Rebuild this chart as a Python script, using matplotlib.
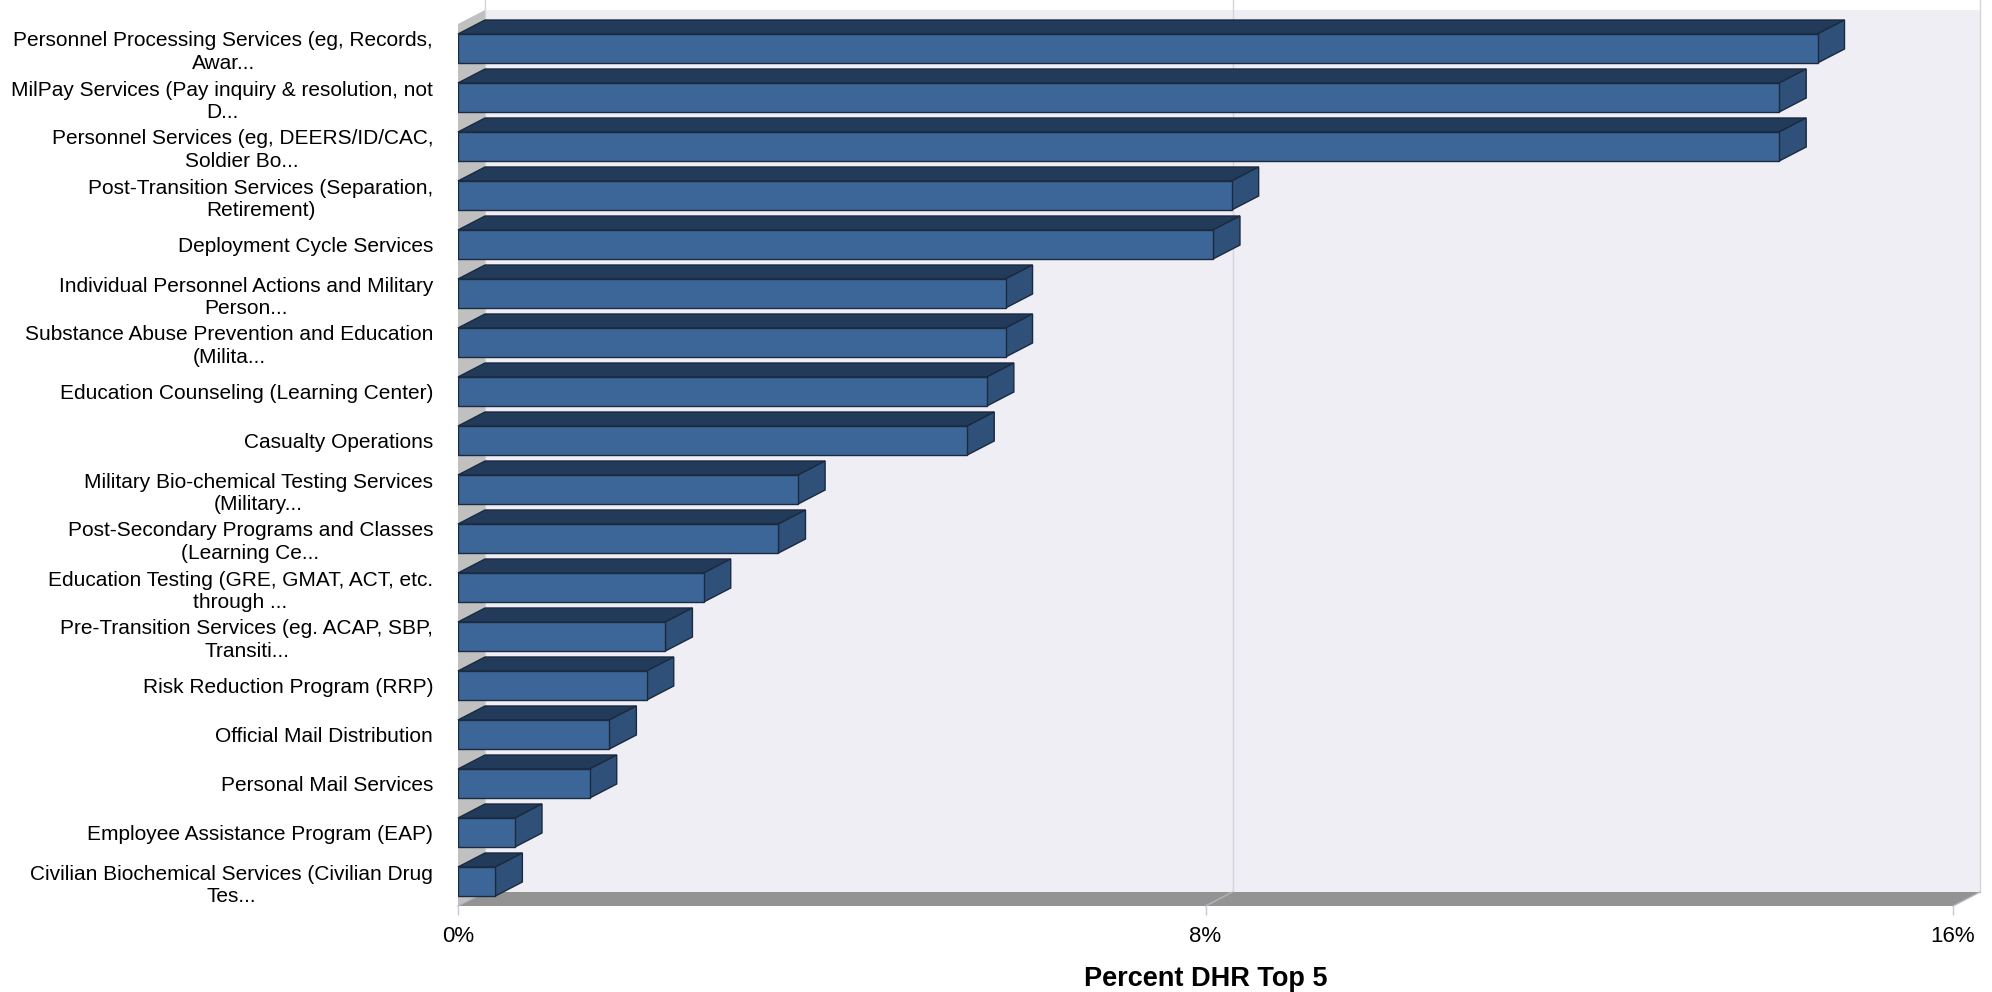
import matplotlib
matplotlib.use("Agg")
import matplotlib.pyplot as plt
from matplotlib.patches import Polygon

plt.rcParams['font.family'] = ['Liberation Sans', 'DejaVu Sans']

categories = [
    "Personnel Processing Services (eg, Records,\nAwar...",
    "MilPay Services (Pay inquiry & resolution, not\nD...",
    "Personnel Services (eg, DEERS/ID/CAC,\nSoldier Bo...",
    "Post-Transition Services (Separation,\nRetirement)",
    "Deployment Cycle Services",
    "Individual Personnel Actions and Military\nPerson...",
    "Substance Abuse Prevention and Education\n(Milita...",
    "Education Counseling (Learning Center)",
    "Casualty Operations",
    "Military Bio-chemical Testing Services\n(Military...",
    "Post-Secondary Programs and Classes\n(Learning Ce...",
    "Education Testing (GRE, GMAT, ACT, etc.\nthrough ...",
    "Pre-Transition Services (eg. ACAP, SBP,\nTransiti...",
    "Risk Reduction Program (RRP)",
    "Official Mail Distribution",
    "Personal Mail Services",
    "Employee Assistance Program (EAP)",
    "Civilian Biochemical Services (Civilian Drug\nTes...",
]
percents = [14.55, 14.14, 14.14, 8.28, 8.08, 5.86, 5.86, 5.66, 5.45,
            3.64, 3.43, 2.63, 2.22, 2.02, 1.62, 1.41, 0.61, 0.40]
xticks = [0, 8, 16]
xtick_labels = ["0%", "8%", "16%"]

W, H = 1992, 992
fig = plt.figure(figsize=(W / 100, H / 100), dpi=100)
ax = fig.add_axes([458 / W, 86 / H, 1495 / W, 882 / H])
n = len(categories)
xmax = 16
ax.set_xlim(0, xmax)
ax.set_ylim(n - 0.5, -0.5)

# depth of the fake 3d effect, in data units
dx = 27 * xmax / 1495
dy = 14 * n / 882
ybot = n - 0.5
ytop = -0.5
yfig_top = ytop - 24 * n / 882

# back wall, left wall, floor
ax.add_patch(Polygon([(dx, ybot - dy), (xmax + dx, ybot - dy),
                      (xmax + dx, ytop - dy), (dx, ytop - dy)],
                     closed=True, fc='#efeef4', ec='none', clip_on=False, zorder=0))
ax.add_patch(Polygon([(0, ybot), (dx, ybot - dy), (dx, ytop - dy), (0, ytop)],
                     closed=True, fc='#c0c0c0', ec='none', clip_on=False, zorder=0.2))
for t in xticks:
    ax.plot([t + dx, t + dx], [ybot - dy, yfig_top], color='#d4d4de', lw=1,
            clip_on=False, zorder=0.5)
ax.add_patch(Polygon([(0, ybot), (xmax, ybot), (xmax + dx, ybot - dy), (dx, ybot - dy)],
                     closed=True, fc='#939393', ec='none', clip_on=False, zorder=1))
for t in xticks:
    ax.plot([t, t + dx], [ybot, ybot - dy], color='#b4b4bc', lw=1,
            clip_on=False, zorder=1.1)

# bars
h = 29 / 49
edge = '#1b2a3e'
ypos = list(range(n))
ax.barh(ypos, percents, height=h, color='#3b6697', edgecolor=edge, lw=1, zorder=3)
for i, v in zip(ypos, percents):
    y0 = i - h / 2
    y1 = i + h / 2
    ax.add_patch(Polygon([(0, y0), (v, y0), (v + dx, y0 - dy), (dx, y0 - dy)],
                         closed=True, fc='#223b5b', ec=edge, lw=1, zorder=2.5,
                         clip_on=False))
    ax.add_patch(Polygon([(v, y0), (v, y1), (v + dx, y1 - dy), (v + dx, y0 - dy)],
                         closed=True, fc='#2f5079', ec=edge, lw=1, zorder=2.5,
                         clip_on=False))

for s in ax.spines.values():
    s.set_visible(False)
ax.set_facecolor('none')

ax.set_yticks(ypos)
ax.set_yticklabels(categories, fontsize=15, multialignment='center',
                   linespacing=1.25)
ax.tick_params(axis='y', length=0, pad=18)
ax.set_xticks(xticks)
ax.set_xticklabels(xtick_labels, fontsize=16)
ax.tick_params(axis='x', length=6.5, width=1, color='#c8c8d8', pad=8)
ax.set_xlabel('Percent DHR Top 5', fontsize=19.5, fontweight='bold', labelpad=13.5)

fig.savefig('out.png', dpi=100, facecolor='white')
